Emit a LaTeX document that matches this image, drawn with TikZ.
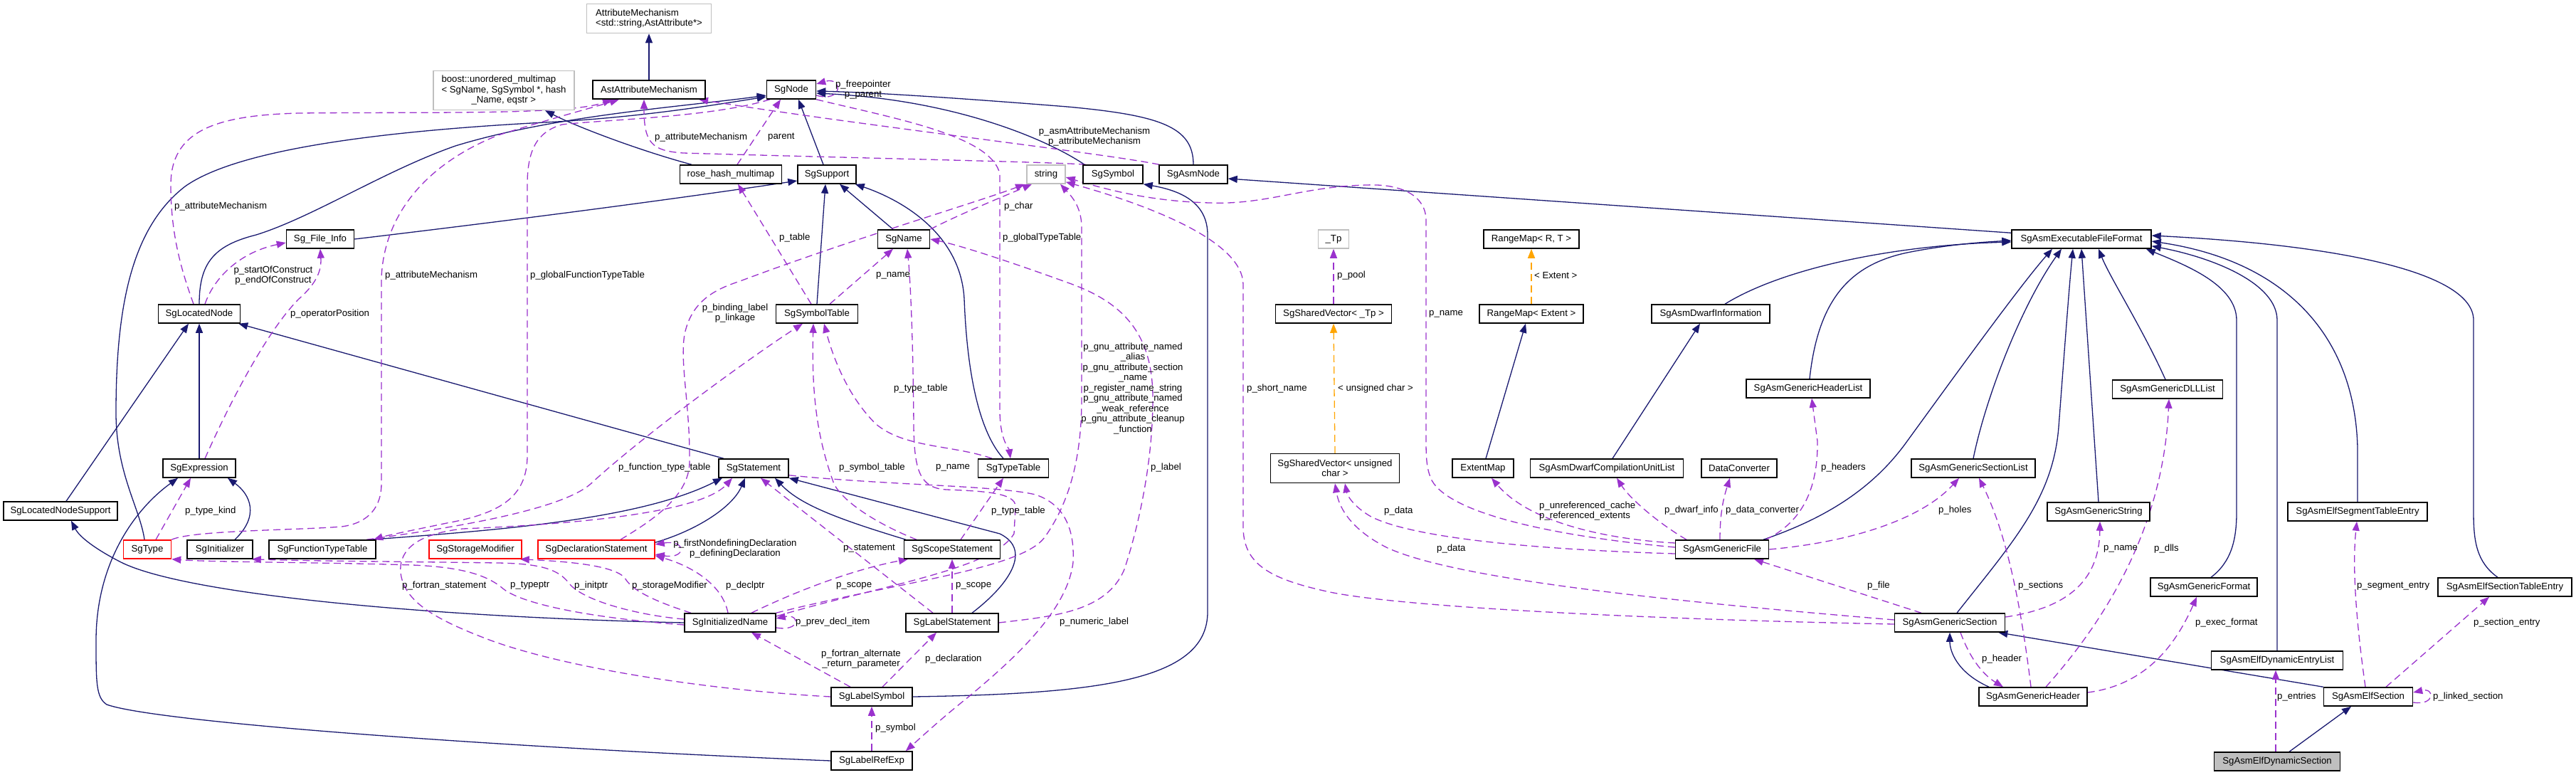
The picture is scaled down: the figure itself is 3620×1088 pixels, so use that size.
\documentclass[tikz,border=0pt]{standalone}
\usepackage{fontspec}
\setmainfont{Liberation Sans}
\usetikzlibrary{arrows.meta,backgrounds}
\definecolor{navy}{HTML}{191970}
\definecolor{purp}{HTML}{9A32CD}
\definecolor{orng}{HTML}{FFA500}
\definecolor{gbord}{HTML}{BFBFBF}
\tikzset{
  cbox/.style={draw=black, line width=1.5pt, fill=white, minimum height=26pt, inner sep=0pt, align=center},
  gbox/.style={cbox, draw=gbord},
  rbox/.style={cbox, draw=red},
  inhl/.style={draw=navy, line width=1.3pt, -{Triangle[length=13pt,width=10pt]}},
  usel/.style={draw=purp, line width=1.3pt, dash pattern=on 10pt off 6pt, -{Triangle[length=13pt,width=10pt]}},
  uselb/.style={draw=purp, line width=1.3pt, dash pattern=on 10pt off 6pt, {Triangle[length=13pt,width=10pt]}-{Triangle[length=13pt,width=10pt]}},
  tmpll/.style={draw=orng, line width=1.3pt, dash pattern=on 10pt off 6pt, -{Triangle[length=13pt,width=10pt]}},
  lbl/.style={inner sep=0pt, anchor=west},
  clbl/.style={inner sep=0pt, align=center},
}
\begin{document}
\begin{tikzpicture}[x=1pt,y=-1pt,font=\fontsize{13.2}{14.5}\selectfont]
\useasboundingbox (0,0) rectangle (3620,1088);
% ---------------- nodes
\node[gbox, minimum width=175pt, minimum height=41pt, align=left] (attrmech) at (912,26) {AttributeMechanism\\<std::string,AstAttribute*>};
\node[gbox, minimum width=198pt, minimum height=55pt, align=left] (boost) at (708,127) {boost::unordered\_multimap\\< SgName, SgSymbol *, hash\\\hspace*{42pt}\_Name, eqstr >};
\node[cbox, minimum width=158pt] (astattr) at (912,126) {AstAttributeMechanism};
\node[cbox, minimum width=69pt] (sgnode) at (1112,126) {SgNode};
\node[cbox, minimum width=143pt] (rose) at (1027,245) {rose\_hash\_multimap};
\node[cbox, minimum width=82pt] (sup) at (1162,245) {SgSupport};
\node[gbox, minimum width=54pt] (str) at (1470,245) {string};
\node[cbox, minimum width=84pt] (sym) at (1564,245) {SgSymbol};
\node[cbox, minimum width=96pt] (asmnode) at (1677,245) {SgAsmNode};
\node[cbox, minimum width=95pt] (finfo) at (450,336) {Sg\_File\_Info};
\node[cbox, minimum width=73pt] (sgname) at (1270,336) {SgName};
\node[gbox, minimum width=43pt] (tp) at (1874,336) {\_Tp};
\node[cbox, minimum width=134pt] (rmrt) at (2152,336) {RangeMap< R, T >};
\node[cbox, minimum width=196pt] (execff) at (2925,336) {SgAsmExecutableFileFormat};
\node[cbox, minimum width=115pt] (locnode) at (280,441) {SgLocatedNode};
\node[cbox, minimum width=115pt] (symtab) at (1148,441) {SgSymbolTable};
\node[cbox, minimum width=163pt] (svtp) at (1874,441) {SgSharedVector< \_Tp >};
\node[cbox, minimum width=146pt] (rmext) at (2152,441) {RangeMap< Extent >};
\node[cbox, minimum width=166pt] (dwarf) at (2404,441) {SgAsmDwarfInformation};
\node[cbox, minimum width=174pt] (hlist) at (2541,546) {SgAsmGenericHeaderList};
\node[cbox, minimum width=155pt] (dll) at (3046,547) {SgAsmGenericDLLList};
\node[cbox, minimum width=102pt] (expr) at (280,658) {SgExpression};
\node[cbox, minimum width=98pt] (stmt) at (1059,658) {SgStatement};
\node[cbox, minimum width=99pt] (typetab) at (1424,658) {SgTypeTable};
\node[cbox, minimum width=181pt, minimum height=41pt] (svuc) at (1876,658) {SgSharedVector< unsigned\\char >};
\node[cbox, minimum width=86pt] (extmap) at (2084,658) {ExtentMap};
\node[cbox, minimum width=215pt] (dcul) at (2258,658) {SgAsmDwarfCompilationUnitList};
\node[cbox, minimum width=106pt] (dconv) at (2444,658) {DataConverter};
\node[cbox, minimum width=174pt] (slist) at (2773,658) {SgAsmGenericSectionList};
\node[cbox, minimum width=160pt] (lns) at (85,718) {SgLocatedNodeSupport};
\node[cbox, minimum width=144pt] (gstr) at (2949,719) {SgAsmGenericString};
\node[cbox, minimum width=196pt] (segte) at (3313,719) {SgAsmElfSegmentTableEntry};
\node[rbox, minimum width=67pt] (sgtype) at (207,772) {SgType};
\node[cbox, minimum width=92pt] (init) at (309,772) {SgInitializer};
\node[cbox, minimum width=150pt] (ftt) at (453,772) {SgFunctionTypeTable};
\node[rbox, minimum width=130pt] (stor) at (668,772) {SgStorageModifier};
\node[rbox, minimum width=164pt] (decl) at (838,772) {SgDeclarationStatement};
\node[cbox, minimum width=135pt] (scope) at (1338,772) {SgScopeStatement};
\node[cbox, minimum width=131pt] (gfile) at (2420,772) {SgAsmGenericFile};
\node[cbox, minimum width=150pt] (gfmt) at (3097,825) {SgAsmGenericFormat};
\node[cbox, minimum width=188pt] (secte) at (3520,825) {SgAsmElfSectionTableEntry};
\node[cbox, minimum width=128pt] (iname) at (1026,875) {SgInitializedName};
\node[cbox, minimum width=130pt] (lstmt) at (1338,875) {SgLabelStatement};
\node[cbox, minimum width=155pt] (gsec) at (2740,875) {SgAsmGenericSection};
\node[cbox, minimum width=185pt] (elist) at (3200,928) {SgAsmElfDynamicEntryList};
\node[cbox, minimum width=114pt] (lsym) at (1225,979) {SgLabelSymbol};
\node[cbox, minimum width=152pt] (ghdr) at (2857,979) {SgAsmGenericHeader};
\node[cbox, minimum width=125pt] (elfsec) at (3328,979) {SgAsmElfSection};
\node[cbox, minimum width=114pt] (refexp) at (1225,1069) {SgLabelRefExp};
\node[cbox, fill=gbord, minimum width=177pt] (dyn) at (3200,1070) {SgAsmElfDynamicSection};
% ---------------- edges
\begin{pgfonlayer}{background}
\fill[white] (0,0) rectangle (3620,1088);
% inheritance
\draw[inhl] (astattr.north) -- (attrmech.south);
\draw[inhl] ([xshift=-55pt]rose.north) .. controls (900,212) and (810,178) .. ([xshift=58pt]boost.south);
\draw[inhl] ([xshift=-5pt]sup.north) -- ([xshift=10pt]sgnode.south);
\draw[inhl] ([xshift=-40pt]sym.north) .. controls (1470,195) and (1340,140) .. ([yshift=-5pt]sgnode.east);
\draw[inhl] (asmnode.north) .. controls (1677,178) and (1630,162) .. (1500,150) .. controls (1350,138) and (1230,130) .. ([yshift=-2pt]sgnode.east);
\draw[inhl] (locnode.north) .. controls (280,370) and (300,345) .. (360,330) .. controls (440,305) and (540,240) .. (640,205) .. controls (780,162) and (960,150) .. ([yshift=-8pt]sgnode.west);
\draw[inhl] ([xshift=-4pt]sgtype.north) .. controls (197,715) and (163,665) .. (163,580) .. controls (163,430) and (185,320) .. (260,262) .. controls (330,212) and (520,185) .. (765,172) .. controls (900,165) and (1000,148) .. ([yshift=-10pt]sgnode.west);
\draw[inhl] (finfo.east) .. controls (800,300) and (1000,272) .. ([yshift=-9pt]sup.west);
\draw[inhl] ([xshift=-15pt]sgname.north) -- ([xshift=18pt]sup.south);
\draw[inhl] (symtab.north) -- ([xshift=-2pt]sup.south);
\draw[inhl] ([xshift=-14pt]typetab.north) .. controls (1370,600) and (1358,500) .. (1355,420) .. controls (1350,330) and (1270,282) .. ([xshift=-2pt]sup.south east);
\draw[inhl] (expr.north) -- (locnode.south);
\draw[inhl] ([xshift=8pt]lns.north) -- ([xshift=-15pt]locnode.south);
\draw[inhl] ([xshift=-42pt]stmt.north) -- ([xshift=-3pt]locnode.south east);
\draw[inhl] ([xshift=21pt]init.north) .. controls (365,725) and (352,695) .. ([xshift=40pt]expr.south);
\draw[inhl] (refexp.west) .. controls (700,1050) and (220,1015) .. (150,990) .. controls (135,980) and (135,960) .. (135,900) .. controls (135,790) and (190,715) .. ([xshift=-30pt]expr.south);
\draw[inhl] (iname.west) .. controls (600,867) and (260,835) .. (170,790) .. controls (135,772) and (112,755) .. ([xshift=15pt]lns.south);
\draw[inhl] ([xshift=67pt]ftt.north) .. controls (700,745) and (900,730) .. ([xshift=-44pt]stmt.south);
\draw[inhl] ([yshift=-4pt]decl.north east) .. controls (980,745) and (1030,712) .. ([xshift=-12pt]stmt.south);
\draw[inhl] ([xshift=-65pt]scope.north) .. controls (1180,730) and (1125,710) .. ([xshift=30pt]stmt.south);
\draw[inhl] ([xshift=28pt]lstmt.north) .. controls (1420,820) and (1450,772) .. (1405,750) -- (stmt.south east);
\draw[inhl] (lsym.east) .. controls (1550,975) and (1697,955) .. (1697,860) -- (1697,330) .. controls (1697,285) and (1660,268) .. (sym.south east);
\draw[inhl] ([yshift=-5pt]execff.north west) -- ([yshift=-6pt]asmnode.east);
\draw[inhl] ([xshift=20pt]dwarf.north) .. controls (2500,380) and (2650,345) .. ([yshift=-4pt]execff.west);
\draw[inhl] ([xshift=2pt]hlist.north) .. controls (2555,420) and (2600,372) .. (2680,355) .. controls (2740,343) and (2790,340) .. ([yshift=-2pt]execff.west);
\draw[inhl] ([xshift=8pt]dcul.north) -- ([xshift=-15pt]dwarf.south);
\draw[inhl] ([xshift=4pt]extmap.north) -- ([xshift=-8pt]rmext.south);
\draw[inhl] ([xshift=58pt]gfile.north) .. controls (2560,730) and (2630,690) .. (2680,620) .. controls (2760,510) and (2840,400) .. ([xshift=-41pt]execff.south);
\draw[inhl] (slist.north) .. controls (2790,560) and (2840,430) .. ([xshift=-28pt]execff.south);
\draw[inhl] ([xshift=10pt]gsec.north) .. controls (2830,760) and (2885,700) .. (2893,600) .. controls (2902,480) and (2908,400) .. ([xshift=-12pt]execff.south);
\draw[inhl] (gstr.north) -- (execff.south);
\draw[inhl] ([xshift=-3pt]dll.north) .. controls (3010,460) and (2965,390) .. ([xshift=24pt]execff.south);
\draw[inhl] ([xshift=10pt]gfmt.north) .. controls (3135,790) and (3143,760) .. (3143,720) -- (3143,450) .. controls (3143,400) and (3070,372) .. ([xshift=-8pt]execff.south east);
\draw[inhl] (elist.north) -- (3200,450) .. controls (3200,398) and (3110,362) .. ([yshift=4pt]execff.south east);
\draw[inhl] (segte.north) -- (3313,630) .. controls (3310,480) and (3220,368) .. ([yshift=-3pt]execff.east);
\draw[inhl] ([xshift=-10pt]secte.north) .. controls (3480,790) and (3476,760) .. (3476,720) -- (3476,450) .. controls (3476,385) and (3300,345) .. ([yshift=5pt]execff.east);
\draw[inhl] ([xshift=-62pt]ghdr.north) .. controls (2750,945) and (2740,915) .. (gsec.south);
\draw[inhl] (elfsec.north west) -- ([xshift=-10pt]gsec.south east);
\draw[inhl] ([xshift=17pt]dyn.north) -- ([xshift=-24pt]elfsec.south);
% usage
\draw[usel] ([yshift=-8pt]sgnode.east) .. controls (1185,145) and (1185,107) .. ([yshift=8pt]sgnode.east);
\draw[usel] ([xshift=-8pt]locnode.north) .. controls (255,380) and (240,330) .. (240,260) .. controls (240,185) and (300,162) .. (420,159) .. controls (600,157) and (800,162) .. ([xshift=-52pt]astattr.south);
\draw[usel] (sgtype.north east) .. controls (270,745) and (420,745) .. (480,740) .. controls (520,735) and (536,710) .. (536,680) -- (536,390) .. controls (540,300) and (600,230) .. (700,190) .. controls (780,165) and (830,152) .. ([xshift=-42pt]astattr.south);
\draw[usel] ([xshift=-30pt]sgnode.south) .. controls (1000,165) and (850,168) .. (790,175) .. controls (755,185) and (741,210) .. (741,260) -- (741,640) .. controls (741,700) and (700,722) .. (628,735) .. controls (580,745) and (545,752) .. ([xshift=72pt]ftt.north);
\draw[usel] ([xshift=9pt]rose.north) -- ([xshift=-15pt]sgnode.south);
\draw[usel] ([xshift=-38pt]sym.north) .. controls (1490,228) and (1200,222) .. (960,215) .. controls (915,212) and (905,200) .. ([xshift=-7pt]astattr.south);
\draw[usel] ([xshift=-48pt]asmnode.north) .. controls (1550,215) and (1200,175) .. ([xshift=70pt]astattr.south);
\draw[usel] (sgnode.south east) .. controls (1250,165) and (1395,190) .. (1405,245) -- (1405,580) .. controls (1406,620) and (1418,630) .. ([xshift=-4pt]typetab.north);
\draw[usel] ([xshift=8pt]locnode.north) .. controls (300,392) and (335,355) .. ([yshift=-5pt]finfo.west);
\draw[usel] ([xshift=8pt]expr.north) .. controls (330,550) and (380,460) .. (420,420) .. controls (445,398) and (452,380) .. (finfo.south);
\draw[usel] ([xshift=12pt]sgtype.north) -- ([xshift=-12pt]expr.south);
\draw[usel] ([yshift=-3pt]iname.west) .. controls (850,870) and (740,852) .. (708,828) .. controls (685,808) and (650,797) .. (580,794) .. controls (450,790) and (300,790) .. (sgtype.south east);
\draw[usel] ([yshift=5pt]iname.west) .. controls (900,865) and (820,845) .. (800,820) .. controls (785,800) and (760,792) .. (700,791) .. controls (550,789) and (420,788) .. ([xshift=-2pt]init.south east);
\draw[usel] ([xshift=-55pt]iname.north) .. controls (920,845) and (890,830) .. (880,815) .. controls (870,795) and (800,789) .. ([xshift=-3pt]stor.south east);
\draw[usel] ([xshift=-3pt]iname.north) .. controls (1015,820) and (970,795) .. ([yshift=5pt]decl.south east);
\draw[uselb] ([yshift=7pt]decl.east) .. controls (965,758) and (965,786) .. ([yshift=-7pt]decl.east);
\draw[usel] ([xshift=30pt]iname.north) .. controls (1120,830) and (1200,800) .. ([xshift=-62pt]scope.south);
\draw[usel] (lstmt.north) -- (scope.south);
\draw[usel] ([yshift=-7pt]iname.east) .. controls (1125,888) and (1125,862) .. ([yshift=6pt]iname.east);
\draw[usel] ([xshift=-30pt]lsym.north) -- ([xshift=30pt]iname.south);
\draw[usel] ([xshift=15pt]lsym.north) -- ([xshift=-22pt]lstmt.south);
\draw[usel] (refexp.north) -- (lsym.south);
\draw[usel] ([xshift=-27pt]lstmt.north) -- ([xshift=10pt]stmt.south);
\draw[usel] ([yshift=4pt]stmt.south east) .. controls (1250,682) and (1400,682) .. (1455,695) .. controls (1500,710) and (1510,750) .. (1508,790) .. controls (1500,860) and (1420,930) .. (1360,980) .. controls (1320,1012) and (1290,1040) .. ([xshift=-10pt]refexp.north east);
\draw[usel] (lsym.west) .. controls (1000,970) and (800,940) .. (690,900) .. controls (610,870) and (568,845) .. (563,805) .. controls (560,770) and (590,750) .. (650,743) .. controls (850,735) and (990,715) .. ([xshift=-30pt]stmt.south);
\draw[usel] ([xshift=34pt]decl.north) .. controls (910,735) and (968,700) .. (969,650) .. controls (970,570) and (955,510) .. (962,470) .. controls (972,420) and (1010,405) .. (1040,395) .. controls (1200,335) and (1380,282) .. ([xshift=-30pt]str.south);
\draw[usel] (sgname.north east) .. controls (1350,300) and (1420,272) .. ([xshift=-20pt]str.south);
\draw[usel] ([xshift=18pt]symtab.north) -- ([xshift=-15pt]sgname.south);
\draw[usel] ([xshift=-8pt]symtab.north) -- ([xshift=10pt]rose.south);
\draw[usel] ([xshift=62pt]ftt.north) .. controls (650,740) and (790,715) .. (830,680) .. controls (900,615) and (1050,505) .. ([xshift=-20pt]symtab.south);
\draw[usel] ([xshift=-50pt]scope.north) .. controls (1230,735) and (1185,705) .. (1172,680) .. controls (1150,620) and (1140,560) .. ([xshift=-5pt]symtab.south);
\draw[usel] ([xshift=-30pt]typetab.north) .. controls (1340,625) and (1270,630) .. (1230,595) .. controls (1190,555) and (1170,500) .. ([xshift=10pt]symtab.south);
\draw[usel] ([xshift=12pt]scope.north) -- ([xshift=-14pt]typetab.south);
\draw[usel] ([yshift=9pt]iname.east) .. controls (1240,822) and (1395,800) .. (1425,750) -- (1427,712) .. controls (1428,692) and (1380,690) .. (1330,688) .. controls (1292,686) and (1285,660) .. (1284,600) .. controls (1283,450) and (1278,380) .. ([xshift=5pt]sgname.south);
\draw[usel] (iname.north east) .. controls (1260,818) and (1435,800) .. (1468,755) .. controls (1500,710) and (1520,650) .. (1520,560) -- (1520,320) .. controls (1520,290) and (1505,275) .. ([xshift=20pt]str.south);
\draw[usel] (lstmt.east) .. controls (1480,866) and (1555,860) .. (1580,800) .. controls (1600,740) and (1620,650) .. (1620,560) .. controls (1620,470) and (1580,425) .. (1500,397) .. controls (1420,368) and (1350,345) .. (sgname.east);
\draw[usel] ([yshift=-2pt]gsec.west) .. controls (2300,870) and (1950,852) .. (1860,830) .. controls (1780,812) and (1747,790) .. (1747,740) -- (1747,400) .. controls (1747,340) and (1620,290) .. ([yshift=3pt]str.south east);
\draw[usel] ([yshift=3pt]gfile.west) .. controls (2200,755) and (2040,725) .. (2012,675) .. controls (2005,660) and (2004,645) .. (2004,620) -- (2004,310) .. controls (2004,275) and (1970,258) .. (1920,260) .. controls (1830,262) and (1780,288) .. (1700,285) .. controls (1620,283) and (1560,268) .. ([yshift=-4pt]str.east);
\draw[usel] ([yshift=-6pt]gfile.west) .. controls (2150,772) and (1980,755) .. (1925,725) .. controls (1900,710) and (1893,695) .. ([xshift=14pt]svuc.south);
\draw[usel] ([yshift=4pt]gsec.west) .. controls (2350,845) and (2050,815) .. (1950,770) .. controls (1900,745) and (1882,715) .. (svuc.south);
\draw[usel] ([yshift=9pt]gfile.west) .. controls (2260,758) and (2150,735) .. ([xshift=12pt]extmap.south);
\draw[usel] ([xshift=-50pt]gfile.north) .. controls (2330,735) and (2290,700) .. ([xshift=14pt]dcul.south);
\draw[usel] ([xshift=-3pt]gfile.north) .. controls (2417,720) and (2422,700) .. ([xshift=-13pt]dconv.south);
\draw[usel] ([xshift=-5pt]gfile.north east) .. controls (2530,735) and (2555,690) .. (2554,620) -- ([xshift=5pt]hlist.south);
\draw[usel] (gfile.east) .. controls (2600,762) and (2700,730) .. ([xshift=-20pt]slist.south);
\draw[usel] ([xshift=-40pt]gsec.north) -- ([xshift=45pt]gfile.south);
\draw[usel] ([xshift=-3pt]ghdr.north) .. controls (2840,850) and (2820,750) .. ([xshift=8pt]slist.south);
\draw[usel] ([xshift=15pt]gsec.south) .. controls (2770,930) and (2790,950) .. ([xshift=-42pt]ghdr.north);
\draw[usel] ([yshift=8pt]gsec.east) .. controls (2900,855) and (2950,820) .. ([xshift=2pt]gstr.south);
\draw[usel] ([xshift=18pt]ghdr.north) .. controls (2960,870) and (3040,740) .. ([xshift=2pt]dll.south);
\draw[usel] ([yshift=6pt]ghdr.east) .. controls (3020,962) and (3060,900) .. ([xshift=-10pt]gfmt.south);
\draw[usel] ([xshift=-2pt]dyn.north) -- ([xshift=-2pt]elist.south);
\draw[usel] ([xshift=-4pt]elfsec.north) .. controls (3312,880) and (3305,800) .. ([xshift=-1pt]segte.south);
\draw[usel] ([xshift=25pt]elfsec.north) -- ([xshift=-22pt]secte.south);
\draw[usel] ([yshift=-8pt]elfsec.east) .. controls (3422,992) and (3422,966) .. ([yshift=6pt]elfsec.east);
\draw[usel] (svtp.north) -- (tp.south);
\draw[tmpll] (svuc.north) -- (svtp.south);
\draw[tmpll] (rmext.north) -- (rmrt.south);
\end{pgfonlayer}
% ---------------- labels
\node[clbl] at (1213,126) {p\_freepointer\\p\_parent};
\node[lbl] at (245,290) {p\_attributeMechanism};
\node[clbl] at (384,387) {p\_startOfConstruct\\p\_endOfConstruct};
\node[lbl] at (541,387) {p\_attributeMechanism};
\node[lbl] at (745,387) {p\_globalFunctionTypeTable};
\node[lbl] at (920,193) {p\_attributeMechanism};
\node[lbl] at (1079,193) {parent};
\node[clbl] at (1538,192) {p\_asmAttributeMechanism\\p\_attributeMechanism};
\node[lbl] at (1411,290) {p\_char};
\node[lbl] at (1095,334) {p\_table};
\node[lbl] at (1409,334) {p\_globalTypeTable};
\node[lbl] at (1231,387) {p\_name};
\node[lbl] at (1879,387) {p\_pool};
\node[lbl] at (2156,387) {< Extent >};
\node[lbl] at (408,441) {p\_operatorPosition};
\node[clbl] at (1033,440) {p\_binding\_label\\p\_linkage};
\node[lbl] at (1256,546) {p\_type\_table};
\node[clbl] at (1592,546) {p\_gnu\_attribute\_named\\\_alias\\p\_gnu\_attribute\_section\\\_name\\p\_register\_name\_string\\p\_gnu\_attribute\_named\\\_weak\_reference\\p\_gnu\_attribute\_cleanup\\\_function};
\node[lbl] at (1752,546) {p\_short\_name};
\node[lbl] at (1880,546) {< unsigned char >};
\node[lbl] at (2008,441) {p\_name};
\node[lbl] at (869,657) {p\_function\_type\_table};
\node[lbl] at (1179,657) {p\_symbol\_table};
\node[lbl] at (1315,657) {p\_name};
\node[lbl] at (1617,657) {p\_label};
\node[lbl] at (2559,657) {p\_headers};
\node[lbl] at (260,718) {p\_type\_kind};
\node[lbl] at (1393,718) {p\_type\_table};
\node[lbl] at (1945,718) {p\_data};
\node[lbl, align=left] at (2163,718) {p\_unreferenced\_cache\\p\_referenced\_extents};
\node[lbl] at (2339,717) {p\_dwarf\_info};
\node[lbl] at (2425,717) {p\_data\_converter};
\node[lbl] at (2724,717) {p\_holes};
\node[clbl] at (1033,771) {p\_firstNondefiningDeclaration\\p\_definingDeclaration};
\node[lbl] at (1185,771) {p\_statement};
\node[lbl] at (2019,771) {p\_data};
\node[lbl] at (2956,771) {p\_name};
\node[lbl] at (3027,771) {p\_dlls};
\node[lbl] at (565,823) {p\_fortran\_statement};
\node[lbl] at (717,823) {p\_typeptr};
\node[lbl] at (807,823) {p\_initptr};
\node[lbl] at (888,823) {p\_storageModifier};
\node[lbl] at (1020,823) {p\_declptr};
\node[lbl] at (1175,823) {p\_scope};
\node[lbl] at (1343,823) {p\_scope};
\node[lbl] at (2624,823) {p\_file};
\node[lbl] at (2836,823) {p\_sections};
\node[lbl] at (3312,824) {p\_segment\_entry};
\node[lbl] at (1118,874) {p\_prev\_decl\_item};
\node[lbl] at (1489,874) {p\_numeric\_label};
\node[lbl] at (3085,875) {p\_exec\_format};
\node[lbl] at (3476,875) {p\_section\_entry};
\node[clbl] at (1210,926) {p\_fortran\_alternate\\\_return\_parameter};
\node[lbl] at (1300,926) {p\_declaration};
\node[lbl] at (2785,926) {p\_header};
\node[lbl] at (3200,979) {p\_entries};
\node[lbl] at (3419,979) {p\_linked\_section};
\node[lbl] at (1230,1023) {p\_symbol};
\end{tikzpicture}
\end{document}
